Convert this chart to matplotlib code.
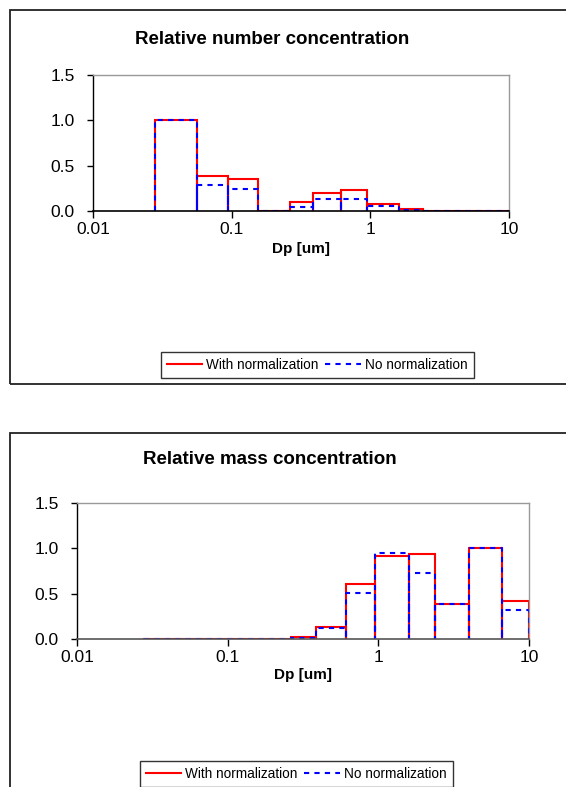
import numpy as np
import matplotlib
matplotlib.use('Agg')
import matplotlib.pyplot as plt
from matplotlib.patches import Rectangle
from matplotlib.ticker import FixedLocator, FixedFormatter

plt.rcParams['font.family'] = ['Liberation Sans', 'DejaVu Sans']

# Impactor stage edges (Dp, um)
edges = [0.028, 0.056, 0.094, 0.156, 0.264, 0.385, 0.613, 0.949, 1.6, 2.39, 3.99, 6.58, 10.0]

# Relative number concentration per stage
num_norm = [1.0, 0.39, 0.355, 0.0, 0.10, 0.20, 0.23, 0.077, 0.022, 0.0, 0.0, 0.0]
num_raw = [1.0, 0.288, 0.245, 0.0, 0.048, 0.13, 0.13, 0.06, 0.015, 0.0, 0.0, 0.0]

# Relative mass concentration per stage
mass_norm = [0.0, 0.0, 0.0, 0.0, 0.02, 0.134, 0.61, 0.92, 0.94, 0.385, 1.0, 0.415]
mass_raw = [0.0, 0.0, 0.0, 0.0, 0.01, 0.12, 0.51, 0.95, 0.725, 0.385, 1.0, 0.32]

xticks = [0.01, 0.1, 1, 10]
xtick_labels = ['0.01', '0.1', '1', '10']
yticks = [0.0, 0.5, 1.0, 1.5]
ytick_labels = ['0.0', '0.5', '1.0', '1.5']


def bin_outline(edges, values):
    # each bin drawn as its own box down to zero
    xs, ys = [], []
    for lo, hi, v in zip(edges[:-1], edges[1:], values):
        xs += [lo, lo, hi, hi]
        ys += [0, v, v, 0]
    return xs, ys


W, H = 566, 787
fig = plt.figure(figsize=(W / 100, H / 100), dpi=100)


def fx(px):
    return px / W


def fy(py):
    return 1 - py / H


def draw_panel(rect, title, title_pos, norm, raw, xlabel_y, legend_box, bottom_color):
    ax = fig.add_axes(rect)
    xs, ys = bin_outline(edges, norm)
    ax.plot(xs, ys, color='#ff0000', lw=1.5, solid_joinstyle='miter',
            label='With normalization')
    xs, ys = bin_outline(edges, raw)
    ax.plot(xs, ys, color='#0000ff', lw=1.5, linestyle=(0, (2.5, 2.5)),
            label='No normalization')

    ax.set_xscale('log')
    ax.set_xlim(0.01, 10)
    ax.set_ylim(0, 1.5)
    ax.xaxis.set_major_locator(FixedLocator(xticks))
    ax.xaxis.set_major_formatter(FixedFormatter(xtick_labels))
    ax.xaxis.set_minor_locator(FixedLocator([]))
    ax.yaxis.set_major_locator(FixedLocator(yticks))
    ax.yaxis.set_major_formatter(FixedFormatter(ytick_labels))
    ax.tick_params(axis='both', direction='out', labelsize=12.5, width=1, colors='black')
    ax.tick_params(axis='x', length=5, pad=3)
    ax.tick_params(axis='y', length=4, pad=9)

    for s in ['top', 'right']:
        ax.spines[s].set_color('#999999')
        ax.spines[s].set_linewidth(1)
    ax.spines['left'].set_color('black')
    ax.spines['bottom'].set_color(bottom_color)
    ax.spines['left'].set_linewidth(1)
    ax.spines['bottom'].set_linewidth(1.2)

    ax.set_xlabel('Dp [um]', fontsize=11, fontweight='bold', va='center')
    ax.xaxis.set_label_coords(0.5, xlabel_y)

    fig.text(fx(title_pos[0]), fy(title_pos[1]), title, fontsize=13.5,
             fontweight='bold', ha='center', va='center')

    leg = fig.legend(handles=ax.get_lines(), loc='center', ncol=2,
                     bbox_to_anchor=(fx(legend_box[0]), fy(legend_box[1])),
                     bbox_transform=fig.transFigure, fontsize=9.8, frameon=True,
                     fancybox=False, edgecolor='black', handlelength=2.6,
                     handletextpad=0.3, columnspacing=0.5, borderpad=0.45,
                     borderaxespad=0)
    leg.get_frame().set_linewidth(1)
    return ax


# top panel: plot area x 93-509, y 75-211
draw_panel([fx(93), fy(211), fx(509) - fx(93), fy(75) - fy(211)],
           'Relative number concentration', (272, 40),
           num_norm, num_raw, -0.279, (317, 365), 'black')

# bottom panel: plot area x 77-529, y 503-639
draw_panel([fx(77), fy(639), fx(529) - fx(77), fy(503) - fy(639)],
           'Relative mass concentration', (270, 460),
           mass_norm, mass_raw, -0.264, (296, 774), '#555555')

# chart area borders (run off the right / bottom edge)
fig.patches.append(Rectangle((fx(9.5), fy(384)), 1.2, fy(10) - fy(384),
                             transform=fig.transFigure, fill=False,
                             edgecolor='#222222', lw=1.3, clip_on=False))
fig.patches.append(Rectangle((fx(9.5), fy(830)), 1.2, fy(433) - fy(830),
                             transform=fig.transFigure, fill=False,
                             edgecolor='#222222', lw=1.3, clip_on=False))

fig.savefig('out.png', dpi=100)
